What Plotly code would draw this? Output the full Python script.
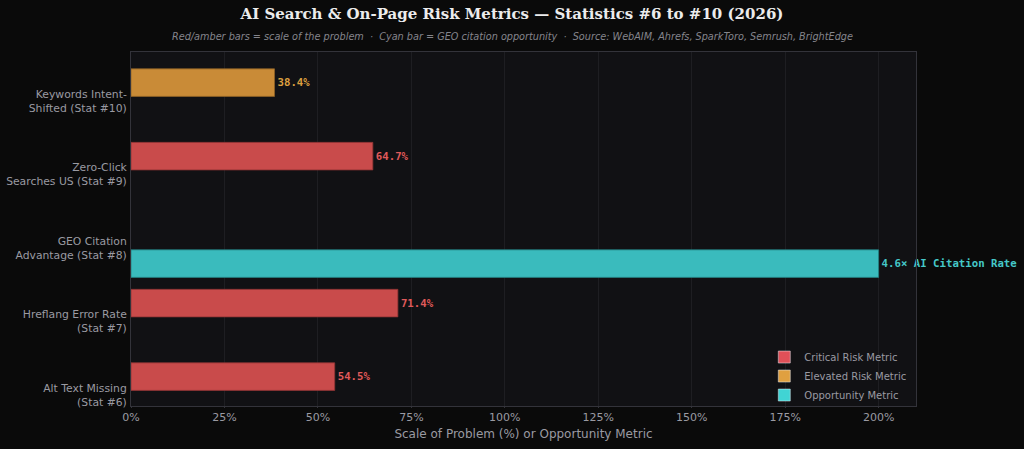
import plotly.graph_objects as go

# ---- data ----
categories = [
    "Alt Text Missing<br>(Stat #6)",
    "Hreflang Error Rate<br>(Stat #7)",
    "GEO Citation<br>Advantage (Stat #8)",
    "Zero-Click<br>Searches US (Stat #9)",
    "Keywords Intent-<br>Shifted (Stat #10)",
]
critical_cats = ["Alt Text Missing<br>(Stat #6)", "Hreflang Error Rate<br>(Stat #7)", "Zero-Click<br>Searches US (Stat #9)"]
critical_vals = [54.5, 71.4, 64.7]
elevated_cats = ["Keywords Intent-<br>Shifted (Stat #10)"]
elevated_vals = [38.4]
opportunity_cats = ["GEO Citation<br>Advantage (Stat #8)"]
opportunity_vals = [200]
opportunity_label = ["4.6× AI Citation Rate"]
x_ticks = [0, 25, 50, 75, 100, 125, 150, 175, 200]
x_tick_labels = ["0%", "25%", "50%", "75%", "100%", "125%", "150%", "175%", "200%"]

RED, RED_LBL, RED_LEG = "#c94b4b", "#e05a5a", "#e05058"
AMB, AMB_LBL, AMB_LEG = "#c98b37", "#dda040", "#e0a040"
CYA, CYA_LBL, CYA_LEG = "#3abbbd", "#45c8c8", "#40d4d4"

BAR_W = 0.375
RISK_OFF = 0.0625
OPP_OFF = -0.40

fig = go.Figure()

def add_bars(cats, vals, fill, edge, lblcolor, texts, off):
    fig.add_trace(go.Bar(
        y=cats, x=vals, orientation="h",
        width=BAR_W, offset=off,
        marker=dict(color=fill, line=dict(color=edge, width=0.8)),
        text=texts, textposition="outside", cliponaxis=False,
        constraintext="none",
        textfont=dict(family="DejaVu Sans Mono", size=10.7, color=lblcolor),
        showlegend=False, hoverinfo="skip",
    ))

add_bars(critical_cats, critical_vals, RED, "#8e3434", RED_LBL,
         [f"<b>{v}%</b>" for v in critical_vals], RISK_OFF)
add_bars(elevated_cats, elevated_vals, AMB, "#8e6226", AMB_LBL,
         [f"<b>{v}%</b>" for v in elevated_vals], RISK_OFF)
add_bars(opportunity_cats, opportunity_vals, CYA, "#237d7f", CYA_LBL,
         [f"<b>{t}</b>" for t in opportunity_label], OPP_OFF)

for name, col in [("Critical Risk Metric", RED_LEG), ("Elevated Risk Metric", AMB_LEG), ("Opportunity Metric", CYA_LEG)]:
    fig.add_trace(go.Bar(y=[None], x=[None], orientation="h", name=name,
                         marker=dict(color=col), showlegend=True))

fig.update_layout(
    width=1024, height=449,
    margin=dict(l=131, r=108, t=52, b=43),
    paper_bgcolor="#0a0a0a", plot_bgcolor="#111114",
    barmode="overlay",
    font=dict(family="DejaVu Sans", color="#9a9aa2", size=11),
    title=dict(
        text="<b>AI Search &amp; On-Page Risk Metrics — Statistics #6 to #10 (2026)</b>",
        x=0.5, xanchor="center", y=0.97, yanchor="middle",
        font=dict(family="DejaVu Serif", size=15, color="#ececec"),
    ),
    legend=dict(
        x=0.994, y=-0.01, xanchor="right", yanchor="bottom",
        bgcolor="rgba(0,0,0,0)", bordercolor="rgba(0,0,0,0)", borderwidth=0,
        font=dict(size=10, color="#9a9aa2"), tracegroupgap=0,
        itemwidth=30,
    ),
    xaxis=dict(
        range=[0, 210], tickvals=x_ticks, ticktext=x_tick_labels,
        showgrid=True, gridcolor="#1e1e22", gridwidth=1, zeroline=False,
        showline=True, linecolor="#33333a", mirror=True,
        ticks="outside", ticklen=1, tickcolor="#33333a",
        tickfont=dict(size=11, color="#9a9aa2"), automargin=False,
        title=dict(text="Scale of Problem (%) or Opportunity Metric",
                   font=dict(size=12, color="#9a9aa2"), standoff=6),
    ),
    yaxis=dict(
        type="category", categoryorder="array", categoryarray=categories,
        range=[-0.15, 4.667], showgrid=False, zeroline=False,
        showline=True, linecolor="#33333a", mirror=True,
        ticks="", ticklabelstandoff=1, automargin=False,
        tickfont=dict(size=10.8, color="#9a9aa2"),
    ),
)

fig.add_annotation(
    text="<i>Red/amber bars = scale of the problem  ·  Cyan bar = GEO citation opportunity  ·  Source: WebAIM, Ahrefs, SparkToro, Semrush, BrightEdge</i>",
    xref="paper", yref="paper", x=0.5 * (1024 / 785) - 131 / 785, y=1.0, yanchor="bottom", yshift=8,
    showarrow=False, font=dict(size=9.7, color="#85858c"),
)

fig.write_html("out.html")
